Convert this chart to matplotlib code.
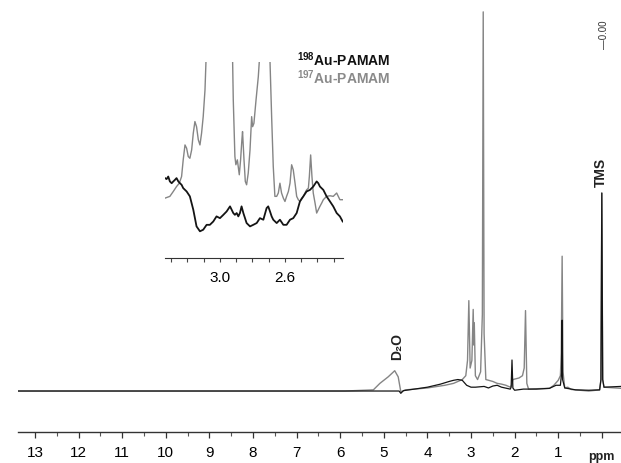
import matplotlib
matplotlib.use("Agg")
import matplotlib.pyplot as plt

plt.rcParams['font.family'] = ['Liberation Sans', 'DejaVu Sans']
plt.rcParams['mathtext.fontset'] = 'custom'
plt.rcParams['mathtext.rm'] = 'Liberation Sans'
plt.rcParams['mathtext.bf'] = 'Liberation Sans:bold'

# ---------------- main spectrum data (ppm, relative intensity) ----------------
gray_ppm = [13.39, 10.0, 7.0, 5.9, 5.24, 5.09, 4.90, 4.75, 4.67, 4.61, 4.50, 4.00, 3.60,
            3.40, 3.30, 3.20, 3.12, 3.08, 3.05, 3.02, 2.98, 2.95, 2.935, 2.925, 2.90,
            2.85, 2.78, 2.74, 2.72, 2.70, 2.66, 2.50, 2.40, 2.30, 2.20, 2.10, 2.07,
            2.04, 1.90, 1.82, 1.78, 1.75, 1.72, 1.68, 1.50, 1.20, 1.10, 1.00, 0.95,
            0.93, 0.91, 0.89, 0.85, 0.78, 0.70, 0.30, 0.05, 0.02, 0.00, -0.02, -0.05,
            -0.44]
gray_int = [0.0, 0.0, 0.0, 0.0, 0.3, 2.0, 3.7, 5.3, 3.7, -0.2, 0.3, 0.8, 1.5,
            2.0, 2.5, 3.0, 4.0, 8.0, 23.6, 6.0, 8.0, 21.3, 12.0, 17.8, 4.0,
            3.0, 5.0, 20.0, 99.0, 15.0, 3.0, 2.5, 2.0, 1.8, 1.5, 1.0, 1.5,
            3.0, 3.4, 4.0, 6.0, 21.0, 2.0, 0.5, 0.6, 0.7, 1.5, 2.8, 4.0,
            10.0, 35.2, 5.0, 0.8, 1.0, 0.4, 0.0, 0.3, 3.0, 51.7, 3.0, 1.0,
            0.7]

black_ppm = [13.39, 10.0, 7.0, 4.65, 4.61, 4.55, 4.30, 4.00, 3.70, 3.50, 3.40, 3.30,
             3.20, 3.10, 3.00, 2.90, 2.70, 2.60, 2.50, 2.40, 2.30, 2.10, 2.08, 2.06,
             2.04, 2.00, 1.80, 1.50, 1.20, 1.05, 0.95, 0.92, 0.91, 0.90, 0.85, 0.60,
             0.30, 0.05, 0.02, 0.00, -0.02, -0.05, -0.44]
black_int = [0.0, 0.0, 0.0, 0.0, -0.6, 0.1, 0.5, 1.0, 1.8, 2.5, 2.8, 3.0,
             2.8, 1.5, 1.0, 1.0, 1.2, 0.8, 1.3, 1.5, 1.0, 0.5, 1.0, 8.1,
             0.8, 0.2, 0.5, 0.5, 0.7, 1.5, 1.5, 5.0, 18.5, 3.0, 0.8, 0.3,
             0.2, 0.3, 3.0, 51.7, 3.0, 1.0, 1.2]

main_ticks = list(range(0, 14))
main_minor = [x + 0.5 for x in range(0, 13)]

# ---------------- inset data ----------------
inset_gray_ppm = [3.338, 3.308, 3.287, 3.267, 3.250, 3.236, 3.226, 3.215, 3.205, 3.195,
                  3.185, 3.174, 3.164, 3.154, 3.144, 3.133, 3.123, 3.113, 3.103, 3.092,
                  3.086, 3.000, 2.922, 2.918, 2.908, 2.902, 2.893, 2.881, 2.873, 2.865,
                  2.861, 2.852, 2.844, 2.836, 2.826, 2.815, 2.805, 2.799, 2.791, 2.778,
                  2.764, 2.758, 2.725, 2.692, 2.682, 2.672, 2.662, 2.651, 2.641, 2.631,
                  2.621, 2.610, 2.600, 2.590, 2.579, 2.569, 2.559, 2.549, 2.538, 2.528,
                  2.518, 2.508, 2.497, 2.487, 2.477, 2.467, 2.456, 2.450, 2.442, 2.434,
                  2.426, 2.415, 2.405, 2.395, 2.385, 2.374, 2.364, 2.344, 2.323, 2.303,
                  2.282, 2.272, 2.262, 2.245]
inset_gray_int = [30.5, 31.4, 33.9, 36.4, 38.1, 41.5, 50.0, 57.6, 55.9, 51.7,
                  50.8, 55.1, 63.6, 69.5, 66.9, 60.2, 57.6, 63.6, 72.0, 85.6,
                  100.0, 3000.0, 100.0, 80.5, 51.7, 47.5, 50.0, 42.4, 50.0, 60.2,
                  64.4, 50.0, 39.0, 37.3, 43.2, 55.1, 72.0, 66.9, 68.6, 80.5,
                  92.4, 100.0, 3000.0, 100.0, 72.0, 46.6, 31.4, 31.4, 33.1, 38.1,
                  33.1, 30.5, 28.8, 31.4, 33.9, 38.1, 47.5, 44.9, 38.1, 31.4,
                  29.7, 28.8, 30.5, 31.4, 33.1, 34.7, 35.6, 41.5, 52.5, 41.5,
                  33.1, 28.0, 22.9, 24.6, 26.3, 28.0, 29.7, 31.4, 31.7, 31.4,
                  33.1, 31.4, 29.7, 29.7]

inset_black_ppm = [3.338, 3.328, 3.318, 3.308, 3.297, 3.287, 3.277, 3.267, 3.256, 3.246,
                   3.236, 3.226, 3.205, 3.185, 3.164, 3.144, 3.123, 3.103, 3.082, 3.062,
                   3.041, 3.021, 3.000, 2.979, 2.959, 2.938, 2.928, 2.918, 2.908, 2.897,
                   2.887, 2.877, 2.867, 2.856, 2.836, 2.815, 2.795, 2.774, 2.754, 2.733,
                   2.713, 2.703, 2.692, 2.682, 2.672, 2.651, 2.631, 2.610, 2.590, 2.569,
                   2.549, 2.528, 2.508, 2.487, 2.467, 2.446, 2.426, 2.405, 2.395, 2.385,
                   2.364, 2.344, 2.323, 2.303, 2.282, 2.262, 2.245]
inset_black_int = [40.7, 40.2, 41.5, 39.0, 38.1, 39.0, 39.8, 40.7, 39.0, 38.1,
                   37.3, 35.6, 33.9, 31.4, 24.6, 16.1, 13.6, 14.4, 16.9, 16.9,
                   18.6, 21.2, 20.3, 22.0, 23.7, 26.3, 24.6, 22.9, 22.0, 22.9,
                   21.2, 22.9, 26.3, 22.9, 17.8, 16.1, 16.9, 17.8, 20.3, 19.5,
                   25.4, 26.3, 23.7, 21.2, 19.5, 17.8, 19.5, 16.9, 16.9, 19.5,
                   20.3, 22.9, 28.8, 31.4, 33.9, 34.7, 36.4, 39.0, 38.1, 36.4,
                   34.7, 31.4, 28.8, 26.3, 22.9, 21.2, 18.6]

inset_ticks = [3.3, 3.2, 3.1, 3.0, 2.9, 2.8, 2.7, 2.6, 2.5, 2.4, 2.3]
inset_labels = ["", "", "", "3.0", "", "", "", "2.6", "", "", ""]

GRAY = "#858585"
BLACK = "#141414"

W, H = 621, 463
fig = plt.figure(figsize=(W / 100, H / 100), dpi=100)

# ---------------- main axes ----------------
ax = fig.add_axes([18 / W, (H - 432) / H, (W - 18) / W, 432 / H])
ax.plot(gray_ppm, gray_int, color=GRAY, lw=1.0)
ax.plot(black_ppm, black_int, color=BLACK, lw=0.9)
ax.set_xlim(13.39, -0.44)
ax.set_ylim(-10.7, 102.1)
for s in ["top", "left", "right"]:
    ax.spines[s].set_visible(False)
ax.spines["bottom"].set_color("#333333")
ax.spines["bottom"].set_linewidth(1.0)
ax.set_yticks([])
ax.set_xticks(main_ticks)
ax.set_xticks(main_minor, minor=True)
ax.set_xticklabels([str(t) if t > 0 else "" for t in main_ticks])
ax.tick_params(axis="x", which="major", direction="out", length=4, width=0.9,
               color="#333333", labelsize=11, pad=6)
ax.tick_params(axis="x", which="minor", direction="out", length=3, width=0.8,
               color="#555555")
ax.text(601 / W, (H - 457) / H, "ppm", transform=fig.transFigure, ha="center",
        va="center", fontsize=9, fontweight="bold", color="#222222")

ax.text(397 / W, (H - 346) / H, "D\u2082O", transform=fig.transFigure, rotation=90,
        ha="center", va="center", fontsize=10, fontweight="bold", color="#222222")
ax.text(601 / W, (H - 172) / H, "TMS", transform=fig.transFigure, rotation=90,
        ha="center", va="center", fontsize=10, fontweight="bold", color="#222222")
ax.text(604 / W, (H - 35) / H, "\u20140.00", transform=fig.transFigure, rotation=90,
        ha="center", va="center", fontsize=7, color="#333333")

# ---------------- inset ----------------
ins = fig.add_axes([165 / W, (H - 258) / H, (343 - 165) / W, (258 - 61.7) / H])
ins.patch.set_alpha(0)
ins.plot(inset_gray_ppm, inset_gray_int, color=GRAY, lw=1.0)
ins.plot(inset_black_ppm, inset_black_int, color=BLACK, lw=1.3)
ins.set_xlim(3.338, 2.243)
ins.set_ylim(0, 100)
for s in ["top", "left", "right"]:
    ins.spines[s].set_visible(False)
ins.spines["bottom"].set_color("#333333")
ins.set_yticks([])
ins.set_xticks(inset_ticks)
ins.set_xticklabels(inset_labels)
ins.tick_params(axis="x", direction="out", length=3, width=0.8, color="#444444",
                labelsize=11, pad=6)

fig.text(297 / W, (H - 60) / H, r"$\mathbf{^{198}Au}$-PAMAM", ha="left", va="center",
         fontsize=10, fontweight="bold", color="#111111")
fig.text(297 / W, (H - 77.5) / H, r"$\mathbf{^{197}Au}$-PAMAM", ha="left", va="center",
         fontsize=10, fontweight="bold", color="#8a8a8a")

fig.savefig("out.png", dpi=100)
